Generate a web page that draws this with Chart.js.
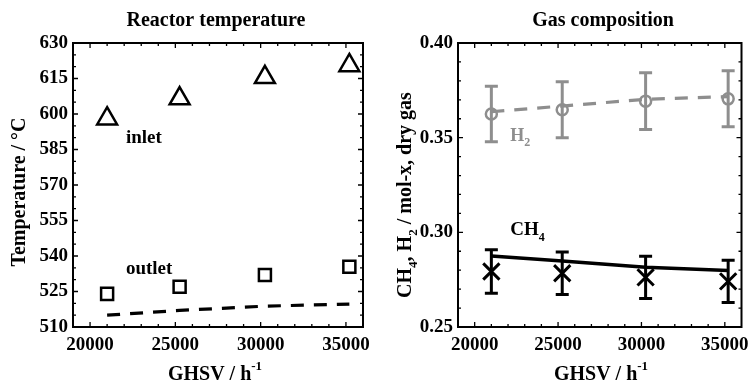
<!DOCTYPE html>
<html>
<head>
<meta charset="utf-8">
<script src="https://cdn.jsdelivr.net/npm/chart.js@4.4.1/dist/chart.umd.min.js"></script>
<style>
  html, body { margin: 0; padding: 0; background: #fff; }
  .wrap { display: flex; width: 756px; height: 381px; }
  .panel { position: relative; width: 378px; height: 381px; }
</style>
</head>
<body>
<div class="wrap">
  <div class="panel"><canvas id="temp-chart"></canvas></div>
  <div class="panel"><canvas id="gas-chart"></canvas></div>
</div>
<script>
// Data
const ghsv = [21000, 25250, 30250, 35200];
const ghsvTicks = [20000, 25000, 30000, 35000];

const inletTemp = [598, 606.5, 615.5, 620.5];
const outletTemp = [524, 527, 532, 535.5];
const outletModel = [515, 517, 518.8, 519.7];
const tempTicks = [510, 525, 540, 555, 570, 585, 600, 615, 630];

const h2Measured = [0.3625, 0.3647, 0.3693, 0.3705];
const h2Error = [0.0146, 0.0148, 0.015, 0.0148];
const h2Model = [0.3637, 0.3667, 0.3703, 0.3717];
const ch4Measured = [0.2793, 0.2784, 0.2762, 0.2741];
const ch4Error = [0.0115, 0.0112, 0.0112, 0.0112];
const ch4Model = [0.2875, 0.2849, 0.2815, 0.2798];
const fracTicks = [0.25, 0.30, 0.35, 0.40];

const FONT = "'Liberation Serif', 'Times New Roman', serif";
const GREY = '#8e8e8e';

function pts(ys) {
    return ghsv.map((x, i) => ({ x: x, y: ys[i] }));
}

function range(min, max, step) {
    const out = [];
    for (let v = min; v <= max + step / 2; v += step) out.push({ value: +v.toFixed(4) });
    return out;
}

// text with sub/superscripts: parts = [[text, mode]], mode 1 = sub, -1 = sup
function drawRich(ctx, parts, x, y, size, color, align, rotate) {
    const fontFor = m => 'bold ' + (m ? Math.round(size * 0.65) : size) + 'px ' + FONT;
    let w = 0;
    parts.forEach(([t, m]) => { ctx.font = fontFor(m); w += ctx.measureText(t).width; });
    let cx = align === 'center' ? -w / 2 : 0;
    ctx.save();
    ctx.translate(x, y);
    if (rotate) ctx.rotate(rotate);
    ctx.fillStyle = color;
    ctx.textAlign = 'left';
    ctx.textBaseline = 'alphabetic';
    parts.forEach(([t, m]) => {
        ctx.font = fontFor(m);
        const dy = m === 1 ? size * 0.3 : (m === -1 ? -size * 0.5 : 0);
        ctx.fillText(t, cx, dy);
        cx += ctx.measureText(t).width;
    });
    ctx.restore();
}

// vertical error bars with caps
const errorBarPlugin = {
    id: 'errorBars',
    afterDatasetsDraw(chart) {
        const ctx = chart.ctx;
        const yScale = chart.scales.y;
        chart.data.datasets.forEach((ds, i) => {
            if (!ds.errorBars) return;
            const meta = chart.getDatasetMeta(i);
            ctx.save();
            ctx.strokeStyle = ds.borderColor;
            ctx.lineWidth = 3;
            meta.data.forEach((el, j) => {
                const v = ds.data[j].y;
                const e = ds.errorBars[j];
                const top = yScale.getPixelForValue(v + e);
                const bot = yScale.getPixelForValue(v - e);
                ctx.beginPath();
                ctx.moveTo(el.x, top); ctx.lineTo(el.x, bot);
                ctx.moveTo(el.x - 6.5, top); ctx.lineTo(el.x + 6.5, top);
                ctx.moveTo(el.x - 6.5, bot); ctx.lineTo(el.x + 6.5, bot);
                ctx.stroke();
            });
            ctx.restore();
        });
    }
};

// box frame with inward ticks on all four sides, plus titles and labels
const framePlugin = {
    id: 'frame',
    afterDraw(chart, args, opts) {
        const ctx = chart.ctx;
        const a = chart.chartArea;
        const xs = chart.scales.x, ys = chart.scales.y;
        ctx.save();
        ctx.strokeStyle = '#000';
        ctx.lineWidth = 1.3;
        ctx.beginPath();
        xs.ticks.forEach(t => {
            const p = xs.getPixelForValue(t.value);
            if (p <= a.left + 1 || p >= a.right - 1) return;
            const len = t.label !== '' ? 5 : 3;
            ctx.moveTo(p, a.bottom); ctx.lineTo(p, a.bottom - len);
            ctx.moveTo(p, a.top); ctx.lineTo(p, a.top + len);
        });
        ys.ticks.forEach(t => {
            const p = ys.getPixelForValue(t.value);
            if (p <= a.top + 1 || p >= a.bottom - 1) return;
            const len = t.label !== '' ? 5 : 3;
            ctx.moveTo(a.left, p); ctx.lineTo(a.left + len, p);
            ctx.moveTo(a.right, p); ctx.lineTo(a.right - len, p);
        });
        ctx.stroke();
        ctx.lineWidth = 2;
        ctx.strokeRect(a.left, a.top, a.right - a.left, a.bottom - a.top);
        ctx.restore();

        // panel title
        ctx.save();
        ctx.font = 'bold 20px ' + FONT;
        ctx.fillStyle = '#000';
        ctx.textAlign = 'center';
        ctx.textBaseline = 'alphabetic';
        ctx.fillText(opts.title, opts.titleX, 26);
        ctx.restore();

        // axis titles
        drawRich(ctx, [['GHSV / h', 0], ['-1', -1]], opts.xTitleX, 380, 20, '#000', 'center');
        drawRich(ctx, opts.yTitle, opts.yTitleX, opts.yTitleY, 20, '#000', 'center', -Math.PI / 2);

        // inline labels at data positions
        opts.labels.forEach(l => {
            drawRich(ctx, l.parts, xs.getPixelForValue(l.x), ys.getPixelForValue(l.y), l.size, l.color, 'left');
        });
    }
};

function xAxis() {
    return {
        type: 'linear',
        min: 19000,
        max: 36000,
        afterBuildTicks: s => { s.ticks = range(19000, 36000, 1000); },
        afterFit: s => { s.height = 54; },
        grid: { display: false, drawTicks: false },
        border: { display: false },
        ticks: {
            autoSkip: false,
            maxRotation: 0,
            padding: 7,
            color: '#000',
            font: { family: FONT, size: 19, weight: 'bold' },
            callback: v => ghsvTicks.includes(v) ? String(v) : ''
        }
    };
}

const baseOptions = {
    responsive: true,
    maintainAspectRatio: false,
    animation: false,
    devicePixelRatio: 1,
    plugins: {
        legend: { display: false },
        tooltip: { enabled: false },
        title: { display: false }
    }
};

new Chart(document.getElementById('temp-chart'), {
    type: 'scatter',
    data: {
        datasets: [
            {
                label: 'inlet',
                data: pts(inletTemp),
                pointStyle: 'triangle',
                pointRadius: 11.5,
                borderColor: '#000',
                backgroundColor: 'rgba(0,0,0,0)',
                borderWidth: 2.5
            },
            {
                label: 'outlet',
                data: pts(outletTemp),
                pointStyle: 'rect',
                pointRadius: 8.5,
                borderColor: '#000',
                backgroundColor: 'rgba(0,0,0,0)',
                borderWidth: 2.5
            },
            {
                label: 'outlet model',
                data: pts(outletModel),
                showLine: true,
                pointRadius: 0,
                borderColor: '#000',
                borderWidth: 3.2,
                borderDash: [13, 10]
            }
        ]
    },
    options: {
        ...baseOptions,
        layout: { padding: { top: 43, right: 15, bottom: 0, left: 0 } },
        scales: {
            x: xAxis(),
            y: {
                type: 'linear',
                min: 510,
                max: 630,
                afterBuildTicks: s => { s.ticks = range(510, 630, 5); },
                afterFit: s => { s.width = 73; },
                grid: { display: false, drawTicks: false },
                border: { display: false },
                ticks: {
                    autoSkip: false,
                    padding: 5,
                    color: '#000',
                    font: { family: FONT, size: 19, weight: 'bold' },
                    callback: v => tempTicks.includes(v) ? String(v) : ''
                }
            }
        },
        plugins: {
            ...baseOptions.plugins,
            frame: {
                title: 'Reactor temperature',
                titleX: 216,
                xTitleX: 215,
                yTitle: [['Temperature / \u00B0C', 0]],
                yTitleX: 25,
                yTitleY: 192,
                labels: [
                    { parts: [['inlet', 0]], x: 22100, y: 587.8, size: 19, color: '#000' },
                    { parts: [['outlet', 0]], x: 22100, y: 532.4, size: 19, color: '#000' }
                ]
            }
        }
    },
    plugins: [framePlugin]
});

new Chart(document.getElementById('gas-chart'), {
    type: 'scatter',
    data: {
        datasets: [
            {
                label: 'H2 model',
                data: pts(h2Model),
                showLine: true,
                pointRadius: 0,
                borderColor: GREY,
                borderWidth: 3.2,
                borderDash: [13, 10]
            },
            {
                label: 'H2',
                data: pts(h2Measured),
                errorBars: h2Error,
                pointStyle: 'circle',
                pointRadius: 5.5,
                borderColor: GREY,
                backgroundColor: 'rgba(0,0,0,0)',
                borderWidth: 2.5
            },
            {
                label: 'CH4 model',
                data: pts(ch4Model),
                showLine: true,
                pointRadius: 0,
                borderColor: '#000',
                borderWidth: 3.5
            },
            {
                label: 'CH4',
                data: pts(ch4Measured),
                errorBars: ch4Error,
                pointStyle: 'crossRot',
                pointRadius: 11.5,
                borderColor: '#000',
                borderWidth: 3
            }
        ]
    },
    options: {
        ...baseOptions,
        layout: { padding: { top: 43, right: 8, bottom: 0, left: 0 } },
        scales: {
            x: xAxis(),
            y: {
                type: 'linear',
                min: 0.25,
                max: 0.40,
                afterBuildTicks: s => { s.ticks = range(0.25, 0.40, 0.01); },
                afterFit: s => { s.width = 80; },
                grid: { display: false, drawTicks: false },
                border: { display: false },
                ticks: {
                    autoSkip: false,
                    padding: 5,
                    color: '#000',
                    font: { family: FONT, size: 19, weight: 'bold' },
                    callback: v => fracTicks.some(f => Math.abs(f - v) < 1e-6) ? v.toFixed(2) : ''
                }
            }
        },
        plugins: {
            ...baseOptions.plugins,
            frame: {
                title: 'Gas composition',
                titleX: 225,
                xTitleX: 223,
                yTitle: [['CH', 0], ['4', 1], [', H', 0], ['2', 1], [' / mol-x, dry gas', 0]],
                yTitleX: 33,
                yTitleY: 195,
                labels: [
                    { parts: [['H', 0], ['2', 1]], x: 22130, y: 0.3483, size: 18, color: GREY },
                    { parts: [['CH', 0], ['4', 1]], x: 22130, y: 0.2986, size: 19, color: '#000' }
                ]
            }
        }
    },
    plugins: [errorBarPlugin, framePlugin]
});
</script>
</body>
</html>
